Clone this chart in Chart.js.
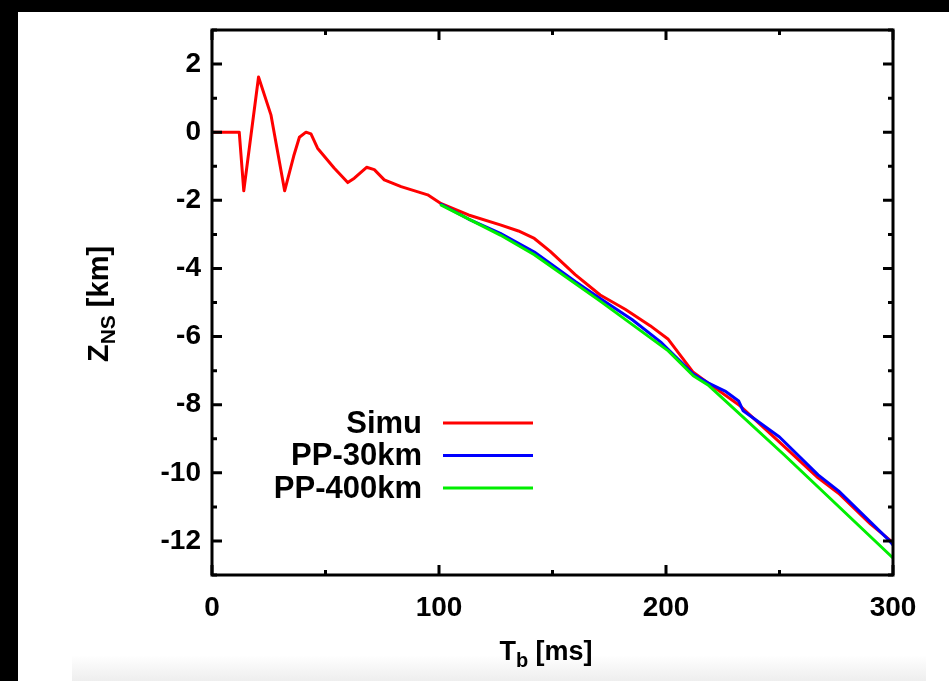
<!DOCTYPE html>
<html>
<head>
<meta charset="utf-8">
<script src="https://cdn.jsdelivr.net/npm/chart.js@4.4.1/dist/chart.umd.min.js"></script>
<style>
  html, body { margin: 0; padding: 0; background: #000; }
  canvas { display: block; }
</style>
</head>
<body>
<canvas id="myChart" width="949" height="681"></canvas>
<script>
// series data (time in ms, position in km)
const simuT = [0, 12, 14, 20.5, 26, 32, 36, 38.5, 41.4, 43.6, 46.5, 53.8, 59.8, 62.7, 68.1, 71.5, 75.9, 83.3, 95, 101, 113, 127, 135, 142, 149, 160, 171, 182, 193, 201, 212, 218.5, 232, 250, 267, 276, 290, 300];
const simuZ = [0, 0, -1.72, 1.62, 0.5, -1.72, -0.7, -0.15, 0.0, -0.05, -0.47, -1.05, -1.48, -1.35, -1.03, -1.1, -1.4, -1.6, -1.84, -2.1, -2.43, -2.72, -2.9, -3.12, -3.5, -4.18, -4.78, -5.2, -5.68, -6.08, -7.05, -7.36, -8.0, -9.1, -10.15, -10.6, -11.5, -12.05];

const pp30T = [101, 113, 127, 142, 160, 171, 185, 198, 212, 218.5, 226, 232, 234, 250, 267, 276, 298, 300];
const pp30Z = [-2.12, -2.55, -2.97, -3.52, -4.38, -4.88, -5.5, -6.18, -7.1, -7.36, -7.6, -7.89, -8.18, -8.95, -10.06, -10.53, -11.96, -12.12];

const pp400T = [101, 127, 142, 171, 201, 212, 218.5, 252, 300];
const pp400Z = [-2.14, -3.02, -3.6, -4.96, -6.42, -7.15, -7.42, -9.47, -12.5];

const seriesNames = ["Simu", "PP-30km", "PP-400km"];
const seriesColors = ["#ff0000", "#0000ff", "#00ee00"];

const xTicks = [0, 100, 200, 300];
const xMinorTicks = [50, 150, 250];
const yTicks = [2, 0, -2, -4, -6, -8, -10, -12];
const yMinorTicks = [3, 1, -1, -3, -5, -7, -9, -11, -13];

function toPoints(ts, zs) {
  return ts.map((t, i) => ({ x: t, y: zs[i] }));
}

const FONT = "'Liberation Sans', Arial, sans-serif";

// gnuplot-ish frame, inward ticks, legend and axis titles
const framePlugin = {
  id: "frame",
  beforeDraw(chart) {
    const ctx = chart.ctx;
    ctx.save();
    ctx.fillStyle = "#000";
    ctx.fillRect(0, 0, chart.width, chart.height);
    ctx.fillStyle = "#fff";
    ctx.fillRect(18, 12, chart.width - 18, chart.height - 12);
    const g = ctx.createLinearGradient(0, 655, 0, 681);
    g.addColorStop(0, "#ffffff");
    g.addColorStop(1, "#eeeeee");
    ctx.fillStyle = g;
    ctx.fillRect(72, 655, 854, 26);
    ctx.restore();
  },
  afterDraw(chart) {
    const ctx = chart.ctx;
    const a = chart.chartArea;
    const xs = chart.scales.x, ys = chart.scales.y;
    ctx.save();
    ctx.strokeStyle = "#000";
    ctx.lineWidth = 3;
    ctx.strokeRect(a.left, a.top, a.right - a.left, a.bottom - a.top);

    ctx.lineWidth = 3;
    ctx.beginPath();
    const xt = (vals, len) => vals.forEach(v => {
      const px = xs.getPixelForValue(v);
      ctx.moveTo(px, a.bottom); ctx.lineTo(px, a.bottom - len);
      ctx.moveTo(px, a.top); ctx.lineTo(px, a.top + len);
    });
    const yt = (vals, len) => vals.forEach(v => {
      const py = ys.getPixelForValue(v);
      ctx.moveTo(a.left, py); ctx.lineTo(a.left + len, py);
      ctx.moveTo(a.right, py); ctx.lineTo(a.right - len, py);
    });
    xt(xTicks, 10); xt(xMinorTicks, 5);
    yt(yTicks, 10); yt(yMinorTicks, 5);
    ctx.stroke();

    // legend
    ctx.font = "bold 31px " + FONT;
    ctx.textAlign = "right";
    ctx.textBaseline = "middle";
    ctx.fillStyle = "#000";
    chart.data.datasets.forEach((ds, i) => {
      const y = 423 + i * 32.5;
      ctx.fillText(ds.label, 422, y + 1);
      ctx.strokeStyle = ds.borderColor;
      ctx.lineWidth = 3;
      ctx.beginPath();
      ctx.moveTo(443, y); ctx.lineTo(533, y);
      ctx.stroke();
    });

    // axis titles with subscripts
    const drawSub = (main, sub, rest, cx, cy, rot, bigPx, smallPx) => {
      ctx.save();
      ctx.translate(cx, cy);
      ctx.rotate(rot);
      ctx.textAlign = "left";
      ctx.textBaseline = "alphabetic";
      const big = "bold " + bigPx + "px " + FONT, small = "bold " + smallPx + "px " + FONT;
      ctx.font = big; const w1 = ctx.measureText(main).width;
      ctx.font = small; const w2 = ctx.measureText(sub).width;
      ctx.font = big; const w3 = ctx.measureText(rest).width;
      let x = -(w1 + w2 + w3) / 2;
      ctx.fillStyle = "#000";
      ctx.fillText(main, x, 10); x += w1;
      ctx.font = small; ctx.fillText(sub, x, 17); x += w2;
      ctx.font = big; ctx.fillText(rest, x, 10);
      ctx.restore();
    };
    drawSub("T", "b", " [ms]", 546, 650, 0, 27, 20);
    drawSub("Z", "NS", " [km]", 98, 304, -Math.PI / 2, 29, 21);
    ctx.restore();
  }
};

const ctx = document.getElementById("myChart").getContext("2d");
new Chart(ctx, {
  type: "line",
  data: {
    datasets: [
      { label: seriesNames[0], data: toPoints(simuT, simuZ), borderColor: seriesColors[0], order: 3 },
      { label: seriesNames[1], data: toPoints(pp30T, pp30Z), borderColor: seriesColors[1], order: 2 },
      { label: seriesNames[2], data: toPoints(pp400T, pp400Z), borderColor: seriesColors[2], order: 1 },
    ],
  },
  options: {
    responsive: false,
    animation: false,
    layout: { padding: { top: 30, right: 56, left: 0, bottom: 0 } },
    elements: {
      line: { borderWidth: 3, tension: 0, fill: false, borderJoinStyle: "round", borderCapStyle: "round" },
      point: { radius: 0 },
    },
    plugins: {
      legend: { display: false },
      tooltip: { enabled: false },
    },
    scales: {
      x: {
        type: "linear",
        min: 0,
        max: 300,
        grid: { display: false, drawTicks: false },
        border: { display: false },
        afterBuildTicks: s => { s.ticks = xTicks.map(v => ({ value: v })); },
        afterFit: s => { s.height = 106; },
        ticks: { color: "#000", padding: 16, maxRotation: 0, font: { family: FONT, size: 28, weight: "bold" } },
      },
      y: {
        type: "linear",
        min: -13,
        max: 3,
        grid: { display: false, drawTicks: false },
        border: { display: false },
        afterBuildTicks: s => { s.ticks = yTicks.map(v => ({ value: v })); },
        afterFit: s => { s.width = 212; },
        ticks: { color: "#000", padding: 11, font: { family: FONT, size: 28, weight: "bold" } },
      },
    },
  },
  plugins: [framePlugin],
});
</script>
</body>
</html>
